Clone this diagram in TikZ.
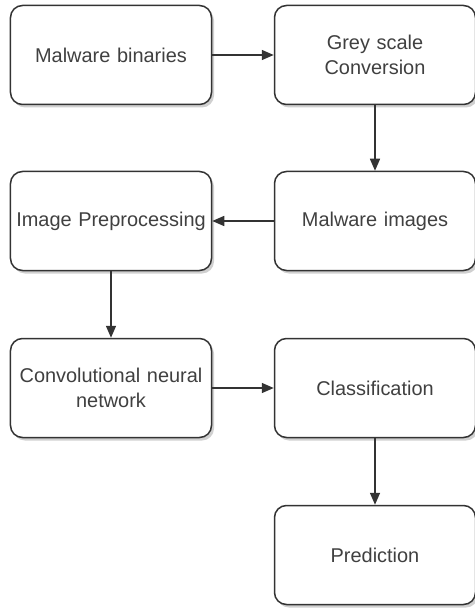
\documentclass[tikz,border=0pt]{standalone}
\usepackage{fontspec}
\setmainfont{Liberation Sans}
\usetikzlibrary{shadows,arrows.meta}
\definecolor{ink}{HTML}{333333}
\definecolor{label}{HTML}{404040}
\tikzset{
  stepbox/.style={draw=ink, line width=1.5bp, rounded corners=12bp, fill=white,
    minimum width=201bp, minimum height=99bp, text width=198bp, align=center,
    inner sep=1.5bp, text=label,
    font=\fontsize{20}{24.5}\selectfont,
    drop shadow={shadow xshift=2.5bp, shadow yshift=-3bp, opacity=0.3, fill=black!60}},
  flow/.style={draw=ink, line width=1.5bp, -{Triangle[length=12bp,width=10bp]}}
}
\begin{document}
\begin{tikzpicture}[x=1bp,y=-1bp]
\useasboundingbox[fill=white] (0,0) rectangle (475,608);
\node[stepbox] (bin)  at (111,55)  {Malware binaries};
\node[stepbox] (grey) at (375,55)  {Grey scale\\Conversion};
\node[stepbox] (img)  at (375,221) {Malware images};
\node[stepbox] (pre)  at (111,221) {Image Preprocessing};
\node[stepbox] (cnn)  at (111,388) {Convolutional neural\\network};
\node[stepbox] (cls)  at (375,388) {Classification};
\node[stepbox] (pred) at (375,555) {Prediction};
\draw[flow] (bin) -- (grey);
\draw[flow] (grey) -- (img);
\draw[flow] (img) -- (pre);
\draw[flow] (pre) -- (cnn);
\draw[flow] (cnn) -- (cls);
\draw[flow] (cls) -- (pred);
\end{tikzpicture}
\end{document}
